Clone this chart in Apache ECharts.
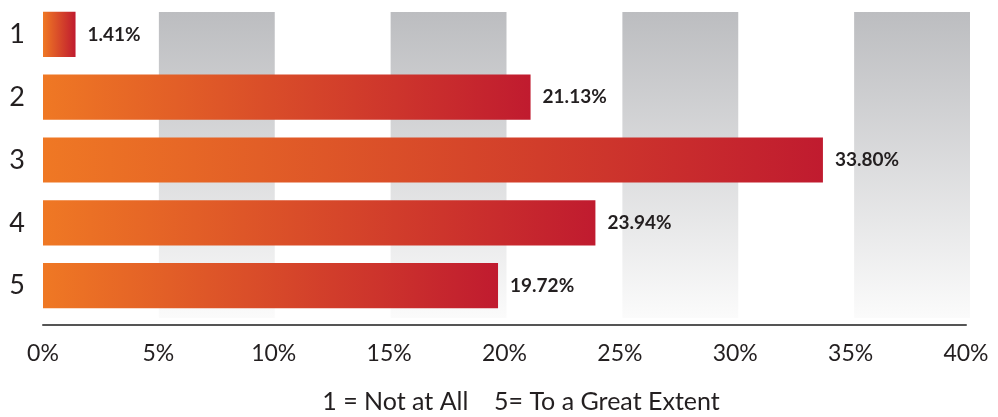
<!DOCTYPE html>
<html>
<head>
<meta charset="utf-8">
<script src="https://cdn.jsdelivr.net/npm/echarts@6/dist/echarts.min.js"></script>
<style>
  html, body { margin: 0; padding: 0; background: #fff; }
  #main { width: 998px; height: 417px; }
</style>
</head>
<body>
<div id="main"></div>
<script>
// data
let categories = ['1', '2', '3', '4', '5'];
let values = [1.41, 21.13, 33.80, 23.94, 19.72];
let footNote = '1 = Not at All    5= To a Great Extent';

var barGrad = new echarts.graphic.LinearGradient(0, 0, 1, 0, [
  { offset: 0, color: '#ef7824' },
  { offset: 1, color: '#c01b2f' }
]);
var bandGrad = new echarts.graphic.LinearGradient(0, 0, 0, 1, [
  { offset: 0, color: '#bcbdc0' },
  { offset: 1, color: '#fbfbfb' }
]);

option1 = {
  animation: false,
  textStyle: { fontFamily: 'Lato' },
  title: {
    text: footNote,
    left: 516,
    textAlign: 'center',
    bottom: -2,
    textStyle: { fontFamily: 'Lato', fontSize: 25, fontWeight: 'normal', color: '#231f20' }
  },
  grid: [
    { left: 43, right: 32, top: 3, bottom: 100 },   // bars
    { left: 43, right: 28, top: 12, bottom: 99 }    // grey bands behind
  ],
  xAxis: [{
    type: 'value',
    min: 0,
    max: 40,
    interval: 5,
    offset: 8,
    axisLine: { show: true, lineStyle: { color: '#555', width: 2 } },
    axisTick: { show: false },
    splitLine: { show: false },
    axisLabel: {
      formatter: '{value}%',
      fontSize: 23,
      color: '#231f20',
      margin: 17
    }
  }, {
    type: 'value',
    gridIndex: 1,
    min: 0,
    max: 40,
    interval: 5,
    axisLine: { show: false },
    axisTick: { show: false },
    axisLabel: { show: false },
    splitLine: { show: false },
    splitArea: {
      show: true,
      areaStyle: { color: ['rgba(255,255,255,0)', bandGrad] }
    }
  }],
  yAxis: [{
    type: 'category',
    data: categories,
    inverse: true,
    axisLine: { show: false },
    axisTick: { show: false },
    axisLabel: { fontSize: 27, color: '#231f20', margin: 18 }
  }, {
    type: 'category',
    gridIndex: 1,
    data: categories,
    show: false
  }],
  series: [
    {
      type: 'bar',
      data: values,
      barCategoryGap: '28%',
      itemStyle: { color: barGrad },
      label: {
        show: true,
        position: 'right',
        distance: 12,
        fontSize: 19,
        fontWeight: 'bold',
        color: '#231f20',
        formatter: function (p) { return p.value.toFixed(2) + '%'; }
      }
    }
  ]
};

var chartDom = document.getElementById('main');
var myChart = echarts.init(chartDom);
myChart.setOption(option1);
</script>
</body>
</html>
